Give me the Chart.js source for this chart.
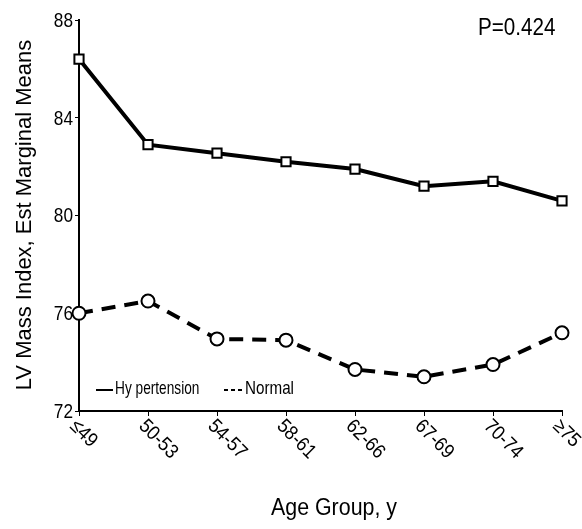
<!DOCTYPE html>
<html>
<head>
<meta charset="utf-8">
<script src="https://cdn.jsdelivr.net/npm/chart.js@4.4.1/dist/chart.umd.min.js"></script>
<style>
  html, body { margin: 0; padding: 0; background: #fff; }
  #wrap { width: 582px; height: 529px; }
</style>
</head>
<body>
<div id="wrap"><canvas id="lvChart" width="582" height="529"></canvas></div>
<script>
// data
const ageGroups = ['≤49', '50-53', '54-57', '58-61', '62-66', '67-69', '70-74', '≥75'];
const hypertension = [86.4, 82.9, 82.55, 82.2, 81.9, 81.2, 81.4, 80.6];
const normal = [76.0, 76.5, 74.95, 74.9, 73.7, 73.4, 73.9, 75.2];
const yTicks = [72, 76, 80, 84, 88];

const FONT = '"Liberation Sans", Arial, sans-serif';

// text in the reference is a condensed Arial, so squeeze it sideways
function drawText(ctx, txt, x, y, size, sx, align, baseline, angle) {
    ctx.save();
    ctx.translate(x, y);
    if (angle) ctx.rotate(angle);
    ctx.scale(sx, 1);
    ctx.font = size + 'px ' + FONT;
    ctx.textAlign = align;
    ctx.textBaseline = baseline;
    ctx.fillText(txt, 0, 0);
    ctx.restore();
}

// draws tick labels, titles, legend and P value
const textPlugin = {
    id: 'textPlugin',
    afterDraw(chart) {
        const ctx = chart.ctx;
        const xs = chart.scales.x;
        const ys = chart.scales.y;
        const area = chart.chartArea;
        ctx.save();
        ctx.fillStyle = '#000';

        // y tick labels
        yTicks.forEach(function(v) {
            drawText(ctx, String(v), 73, ys.getPixelForValue(v) + 1, 21, 0.82, 'right', 'middle', 0);
        });

        // x tick labels, rotated clockwise
        ageGroups.forEach(function(lab, i) {
            const x = xs.getPixelForTick(i);
            drawText(ctx, lab, x + 1, area.bottom + 5, 20, 0.9, 'left', 'top', Math.PI / 4);
        });

        // axis titles
        drawText(ctx, 'Age Group, y', 334, 509, 23, 0.93, 'center', 'middle', 0);
        drawText(ctx, 'LV Mass Index, Est Marginal Means', 25, 215, 22, 1, 'center', 'middle', -Math.PI / 2);

        // P value
        drawText(ctx, 'P=0.424', 478, 28, 24, 0.86, 'left', 'middle', 0);

        // legend
        ctx.strokeStyle = '#000';
        ctx.lineWidth = 2;
        ctx.beginPath();
        ctx.moveTo(96, 390);
        ctx.lineTo(113, 390);
        ctx.stroke();
        drawText(ctx, 'Hy pertension', 115, 389, 19, 0.72, 'left', 'middle', 0);
        ctx.setLineDash([4, 3]);
        ctx.beginPath();
        ctx.moveTo(224, 390);
        ctx.lineTo(243, 390);
        ctx.stroke();
        ctx.setLineDash([]);
        drawText(ctx, 'Normal', 245, 389, 19, 0.8, 'left', 'middle', 0);
        ctx.restore();
    }
};

new Chart(document.getElementById('lvChart').getContext('2d'), {
    type: 'line',
    data: {
        labels: ageGroups,
        datasets: [{
            label: 'Hypertension',
            data: hypertension,
            borderColor: '#000',
            borderWidth: 4,
            pointStyle: 'rect',
            pointRadius: 6.5,
            pointBorderWidth: 2,
            pointBackgroundColor: '#fff',
            pointBorderColor: '#000',
            tension: 0
        }, {
            label: 'Normal',
            data: normal,
            borderColor: '#000',
            borderWidth: 4,
            borderDash: [14, 9],
            pointStyle: 'circle',
            pointRadius: 6.5,
            pointBorderWidth: 2,
            pointBackgroundColor: '#fff',
            pointBorderColor: '#000',
            tension: 0
        }]
    },
    options: {
        responsive: false,
        animation: false,
        layout: { padding: { top: 20, right: 20, left: 0, bottom: 0 } },
        plugins: {
            legend: { display: false },
            tooltip: { enabled: false }
        },
        scales: {
            x: {
                type: 'category',
                offset: false,
                border: { color: '#000', width: 2 },
                grid: { display: true, drawOnChartArea: false, drawTicks: true, tickLength: 5, color: '#000', lineWidth: 1 },
                ticks: { display: false },
                afterFit(scale) { scale.height = 118; }
            },
            y: {
                min: 72,
                max: 88,
                border: { color: '#000', width: 2 },
                grid: { display: true, drawOnChartArea: false, drawTicks: true, tickLength: 4, color: '#000', lineWidth: 1 },
                afterBuildTicks(scale) { scale.ticks = yTicks.map(v => ({ value: v })); },
                ticks: { display: false },
                afterFit(scale) { scale.width = 79; }
            }
        }
    },
    plugins: [textPlugin]
});
</script>
</body>
</html>
